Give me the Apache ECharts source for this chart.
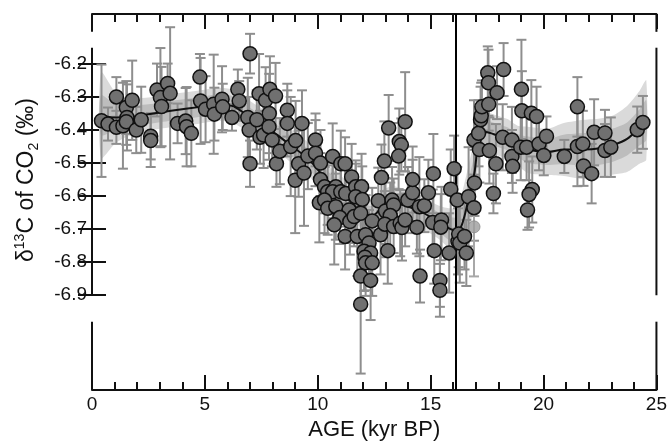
<!DOCTYPE html>
<html>
<head>
<meta charset="utf-8">
<script src="https://cdn.jsdelivr.net/npm/echarts@6/dist/echarts.min.js"></script>
<style>
  html, body { margin: 0; padding: 0; background: #fff; }
  #chart { width: 670px; height: 446px; }
</style>
</head>
<body>
<div id="chart"></div>
<script>
// measured samples: age (kyr BP), d13C-CO2 (permil), 1-sigma error
const ageKyr = [
  0.42, 0.71, 1.08, 1.08, 1.37, 1.52, 1.55, 1.52, 1.78, 1.96, 2.18, 2.60, 2.60, 2.88, 3.03, 3.08,
  3.35, 3.46, 3.79, 4.15, 4.19, 4.40, 4.78, 4.81, 5.03, 5.39, 5.42, 5.76, 5.79, 6.20, 6.46, 6.52,
  6.90, 7.00, 6.96, 7.00, 7.30, 7.40, 7.44, 7.60, 7.69, 7.88, 7.85, 7.84, 7.98, 8.13, 8.17, 8.32,
  8.65, 8.65, 8.80, 9.02, 9.30, 9.15, 9.00, 9.39, 9.56, 9.90, 9.90, 10.12, 10.12, 10.07, 10.66, 11.02,
  11.21, 10.30, 10.44, 10.80, 10.66, 11.02, 11.24, 11.50, 11.68, 11.94, 11.68, 11.97, 10.30, 10.44, 10.80, 11.39,
  10.98, 10.73, 11.42, 11.61, 11.90, 11.21, 11.75, 12.12, 12.27, 12.05, 12.34, 12.09, 12.12, 12.41, 11.90, 12.34,
  11.90, 12.41, 12.82, 12.68, 12.78, 13.14, 13.87, 13.61, 13.70, 13.58, 12.95, 13.00, 13.29, 13.36, 13.21, 12.97,
  13.36, 13.65, 13.73, 13.87, 13.99, 14.20, 14.20, 14.39, 14.50, 14.72, 14.90, 15.12, 15.09, 15.48, 15.45, 15.16,
  13.10, 14.53, 15.41, 15.41, 15.82, 15.89, 16.04, 16.18, 16.21, 16.24, 16.29, 16.50, 16.58, 16.68, 16.92, 16.94,
  16.92, 17.12, 17.16, 17.21, 17.24, 17.27, 17.57, 17.60, 17.53, 17.56, 17.94, 18.23, 17.89, 17.78, 18.19, 18.60,
  18.60, 18.63, 19.02, 19.04, 18.99, 19.25, 19.46, 19.69, 19.50, 19.36, 19.29, 19.80, 20.13, 20.01, 20.92, 21.50,
  21.50, 21.74, 21.77, 22.13, 22.24, 22.72, 22.72, 22.98, 24.15, 24.40
];
const d13c = [
  -6.372, -6.382, -6.300, -6.392, -6.387, -6.332, -6.362, -6.375, -6.310, -6.400, -6.369, -6.419, -6.432, -6.279, -6.302, -6.329,
  -6.259, -6.289, -6.380, -6.373, -6.390, -6.410, -6.240, -6.312, -6.337, -6.322, -6.352, -6.307, -6.330, -6.362, -6.277, -6.312,
  -6.362, -6.169, -6.400, -6.502, -6.369, -6.290, -6.422, -6.415, -6.310, -6.277, -6.350, -6.390, -6.430, -6.297, -6.502, -6.464,
  -6.340, -6.380, -6.450, -6.432, -6.380, -6.502, -6.552, -6.530, -6.479, -6.430, -6.470, -6.500, -6.550, -6.620, -6.480, -6.502,
  -6.502, -6.572, -6.587, -6.572, -6.587, -6.587, -6.592, -6.542, -6.572, -6.572, -6.602, -6.610, -6.612, -6.637, -6.632, -6.642,
  -6.665, -6.687, -6.677, -6.662, -6.652, -6.722, -6.722, -6.717, -6.742, -6.767, -6.772, -6.785, -6.802, -6.802, -6.842, -6.855,
  -6.927, -6.675, -6.544, -6.614, -6.717, -6.394, -6.375, -6.435, -6.445, -6.479, -6.494, -6.645, -6.612, -6.627, -6.659, -6.685,
  -6.692, -6.682, -6.695, -6.672, -6.612, -6.590, -6.550, -6.694, -6.632, -6.629, -6.590, -6.532, -6.680, -6.672, -6.694, -6.765,
  -6.765, -6.842, -6.855, -6.885, -6.772, -6.579, -6.517, -6.612, -6.737, -6.715, -6.742, -6.722, -6.772, -6.602, -6.635, -6.560,
  -6.430, -6.410, -6.459, -6.369, -6.357, -6.330, -6.322, -6.462, -6.227, -6.257, -6.287, -6.217, -6.502, -6.592, -6.422, -6.430,
  -6.480, -6.510, -6.277, -6.342, -6.452, -6.452, -6.349, -6.359, -6.580, -6.595, -6.642, -6.442, -6.419, -6.477, -6.480, -6.330,
  -6.450, -6.442, -6.509, -6.532, -6.407, -6.409, -6.462, -6.452, -6.399, -6.377
];
const errBar = [
  0.17, 0.05, 0.06, 0.05, 0.13, 0.08, 0.10, 0.07, 0.12, 0.07, 0.10, 0.07, 0.08, 0.08, 0.15, 0.12,
  0.06, 0.20, 0.06, 0.10, 0.12, 0.10, 0.07, 0.13, 0.10, 0.15, 0.08, 0.10, 0.07, 0.04, 0.06, 0.06,
  0.12, 0.06, 0.10, 0.07, 0.09, 0.12, 0.08, 0.10, 0.10, 0.10, 0.12, 0.10, 0.08, 0.10, 0.07, 0.10,
  0.08, 0.10, 0.15, 0.12, 0.10, 0.10, 0.16, 0.16, 0.10, 0.08, 0.10, 0.10, 0.08, 0.12, 0.10, 0.10,
  0.08, 0.08, 0.10, 0.10, 0.08, 0.09, 0.10, 0.10, 0.08, 0.10, 0.10, 0.10, 0.10, 0.08, 0.10, 0.10,
  0.08, 0.12, 0.10, 0.09, 0.10, 0.10, 0.12, 0.12, 0.10, 0.12, 0.10, 0.10, 0.10, 0.10, 0.10, 0.12,
  0.21, 0.10, 0.10, 0.10, 0.12, 0.10, 0.15, 0.10, 0.08, 0.10, 0.12, 0.10, 0.10, 0.08, 0.10, 0.10,
  0.08, 0.10, 0.10, 0.08, 0.10, 0.10, 0.10, 0.08, 0.15, 0.08, 0.10, 0.12, 0.10, 0.10, 0.10, 0.10,
  0.10, 0.08, 0.08, 0.08, 0.12, 0.12, 0.10, 0.10, 0.10, 0.10, 0.12, 0.10, 0.10, 0.15, 0.10, 0.10,
  0.12, 0.10, 0.10, 0.10, 0.10, 0.08, 0.08, 0.10, 0.08, 0.10, 0.08, 0.08, 0.12, 0.06, 0.10, 0.10,
  0.08, 0.08, 0.15, 0.12, 0.10, 0.10, 0.10, 0.09, 0.10, 0.10, 0.06, 0.08, 0.06, 0.06, 0.05, 0.09,
  0.12, 0.10, 0.06, 0.09, 0.10, 0.07, 0.08, 0.09, 0.07, 0.08
];

// sample drawn in light grey (not used in the fit)
const greyAge = [16.92];
const greyD13c = [-6.693];
const greyErr = [0.15];

// spline fit and its 1-sigma / 2-sigma envelopes
const fitAge = [
  0.4, 1.0, 1.5, 2.5, 3.5, 4.8, 5.6, 6.2, 6.6, 7.1, 7.7, 8.25, 8.8, 9.4, 9.85, 10.2,
  10.7, 11.25, 11.8, 12.4, 12.9, 13.3, 13.9, 14.6, 15.3, 15.8, 16.1, 16.3, 16.5, 16.7, 16.95, 17.06,
  17.16, 17.4, 17.8, 18.4, 18.85, 19.3, 20.2, 20.9, 21.8, 22.5, 23.1, 23.7, 24.25, 24.55
];
const fitD13c = [
  -6.355, -6.362, -6.362, -6.352, -6.342, -6.330, -6.322, -6.327, -6.342, -6.367, -6.392, -6.417, -6.447, -6.477, -6.507, -6.537,
  -6.572, -6.602, -6.640, -6.660, -6.630, -6.620, -6.630, -6.648, -6.677, -6.697, -6.705, -6.700, -6.660, -6.600, -6.525, -6.457,
  -6.417, -6.405, -6.413, -6.427, -6.447, -6.460, -6.466, -6.459, -6.459, -6.455, -6.445, -6.427, -6.392, -6.370
];
const fitOuter = [
  0.13, 0.08, 0.06, 0.05, 0.05, 0.05, 0.05, 0.05, 0.05, 0.05, 0.05, 0.05, 0.05, 0.05, 0.05, 0.05,
  0.05, 0.05, 0.05, 0.05, 0.05, 0.05, 0.05, 0.05, 0.05, 0.06, 0.07, 0.09, 0.10, 0.10, 0.10, 0.09,
  0.07, 0.06, 0.06, 0.06, 0.06, 0.07, 0.07, 0.08, 0.09, 0.09, 0.09, 0.10, 0.11, 0.12
];
const fitInner = [
  0.06, 0.04, 0.035, 0.03, 0.03, 0.03, 0.03, 0.03, 0.03, 0.03, 0.03, 0.03, 0.03, 0.03, 0.03, 0.03,
  0.03, 0.03, 0.03, 0.03, 0.03, 0.03, 0.03, 0.03, 0.03, 0.035, 0.04, 0.05, 0.055, 0.055, 0.055, 0.05,
  0.04, 0.035, 0.035, 0.035, 0.035, 0.04, 0.04, 0.045, 0.05, 0.05, 0.05, 0.05, 0.055, 0.06
];

const boundaryAge = 16.1;
const yTicks = [-6.2, -6.3, -6.4, -6.5, -6.6, -6.7, -6.8, -6.9];
const yMin = -7.187, yMax = -6.049;

const FONT = 'Liberation Sans, Arial, Helvetica, sans-serif';
const INK = '#111';

const chart = echarts.init(document.getElementById('chart'));

function bandRenderer(halfWidths, fill) {
  return function (params, api) {
    const upper = fitAge.map((a, i) => api.coord([a, fitD13c[i] + halfWidths[i]]));
    const lower = fitAge.map((a, i) => api.coord([a, fitD13c[i] - halfWidths[i]])).reverse();
    return {
      type: 'polygon',
      shape: { points: upper.concat(lower), smooth: 0.25 },
      style: { fill: fill }
    };
  };
}

function errorRenderer(color) {
  return function (params, api) {
    const x = api.value(0);
    const top = api.coord([x, api.value(2)]);
    const bot = api.coord([x, api.value(1)]);
    const cap = 5;
    const style = { stroke: color, lineWidth: 2 };
    return {
      type: 'group',
      children: [
        { type: 'line', shape: { x1: top[0], y1: top[1], x2: bot[0], y2: bot[1] }, style },
        { type: 'line', shape: { x1: top[0] - cap, y1: top[1], x2: top[0] + cap, y2: top[1] }, style },
        { type: 'line', shape: { x1: bot[0] - cap, y1: bot[1], x2: bot[0] + cap, y2: bot[1] }, style }
      ]
    };
  };
}

const xAxisBase = {
  type: 'value',
  min: 0,
  max: 25,
  interval: 5,
  axisLine: { show: true, onZero: false, lineStyle: { color: INK, width: 2 } },
  axisTick: { show: true, inside: true, length: 15, lineStyle: { color: INK, width: 2 } },
  minorTick: { show: true, splitNumber: 5, length: 8, lineStyle: { color: INK, width: 2 } },
  splitLine: { show: false },
  minorSplitLine: { show: false }
};

const yAxisBase = {
  type: 'value',
  min: yMin,
  max: yMax,
  axisLine: { show: false },
  axisTick: { show: true, inside: true, length: 14, customValues: yTicks, lineStyle: { color: INK, width: 2 } },
  splitLine: { show: false }
};

const option = {
  animation: false,
  backgroundColor: '#fff',
  grid: { left: 92, right: 8, top: 14, bottom: 53 },
  xAxis: [
    Object.assign({}, xAxisBase, {
      position: 'bottom',
      name: 'AGE (kyr BP)',
      nameLocation: 'middle',
      nameGap: 28,
      nameTextStyle: { fontFamily: FONT, fontSize: 22, color: INK },
      axisLabel: { fontFamily: FONT, fontSize: 19, color: INK, margin: 5 }
    }),
    Object.assign({}, xAxisBase, { position: 'top', axisLabel: { show: false } })
  ],
  yAxis: [
    Object.assign({}, yAxisBase, {
      position: 'left',
      axisLabel: {
        fontFamily: FONT, fontSize: 19, color: INK, margin: 5,
        customValues: yTicks,
        formatter: (v) => v.toFixed(1)
      }
    }),
    Object.assign({}, yAxisBase, { position: 'right', axisLabel: { show: false } })
  ],
  series: [
    {
      type: 'custom',
      name: 'outer band',
      data: [[fitAge[0], fitD13c[0]]],
      renderItem: bandRenderer(fitOuter, '#dadada'),
      clip: true,
      silent: true,
      z: 1
    },
    {
      type: 'custom',
      name: 'inner band',
      data: [[fitAge[0], fitD13c[0]]],
      renderItem: bandRenderer(fitInner, '#bdbdbd'),
      clip: true,
      silent: true,
      z: 2
    },
    {
      type: 'custom',
      name: 'error bars',
      data: ageKyr.map((a, i) => [a, d13c[i] - errBar[i], d13c[i] + errBar[i]]),
      encode: { x: 0, y: [1, 2] },
      renderItem: errorRenderer('#8e8e8e'),
      clip: true,
      silent: true,
      z: 3
    },
    {
      type: 'custom',
      name: 'grey error',
      data: greyAge.map((a, i) => [a, greyD13c[i] - greyErr[i], greyD13c[i] + greyErr[i]]),
      encode: { x: 0, y: [1, 2] },
      renderItem: errorRenderer('#a8a8a8'),
      silent: true,
      z: 3
    },
    {
      type: 'line',
      name: 'fit',
      data: fitAge.map((a, i) => [a, fitD13c[i]]),
      smooth: 0.3,
      showSymbol: false,
      lineStyle: { color: INK, width: 2 },
      silent: true,
      z: 4
    },
    {
      type: 'scatter',
      name: 'grey sample',
      data: greyAge.map((a, i) => [a, greyD13c[i]]),
      symbolSize: 12,
      itemStyle: { color: '#9c9c9c', borderColor: '#8a8a8a', borderWidth: 1 },
      silent: true,
      z: 5
    },
    {
      type: 'scatter',
      name: 'd13C',
      data: ageKyr.map((a, i) => [a, d13c[i]]),
      symbolSize: 14,
      itemStyle: { color: '#707070', borderColor: '#111', borderWidth: 1.5, opacity: 1 },
      silent: true,
      z: 6
    },
    {
      type: 'line',
      name: 'boundary',
      data: [],
      z: 10,
      markLine: {
        silent: true,
        symbol: ['none', 'none'],
        label: { show: false },
        lineStyle: { color: '#000', width: 2, type: 'solid' },
        data: [{ xAxis: boundaryAge }]
      }
    }
  ]
};

chart.setOption(option);

// broken frame on left and right sides, as in the original figure
const frameRuns = [[yMax, -6.103], [-6.151, -6.9], [-6.98, yMin]];
const frameLines = [];
[0, 25].forEach((x) => {
  frameRuns.forEach(([y1, y2]) => {
    const a = chart.convertToPixel({ seriesIndex: 6 }, [x, y1]);
    const b = chart.convertToPixel({ seriesIndex: 6 }, [x, y2]);
    frameLines.push({
      type: 'line',
      shape: { x1: a[0], y1: a[1], x2: b[0], y2: b[1] },
      style: { stroke: INK, lineWidth: 2 },
      z: 20
    });
  });
});

chart.setOption({
  graphic: frameLines.concat([
    {
      type: 'text',
      x: 27,
      y: 180,
      rotation: Math.PI / 2,
      z: 20,
      style: {
        text: '{a|δ}{s|13}{a|C of CO}{b|2}{a| (‰)}',
        align: 'center',
        verticalAlign: 'middle',
        fill: INK,
        rich: {
          a: { fontFamily: FONT, fontSize: 23, lineHeight: 28, fill: INK },
          s: { fontFamily: FONT, fontSize: 14, lineHeight: 14, verticalAlign: 'top', fill: INK },
          b: { fontFamily: FONT, fontSize: 14, lineHeight: 14, verticalAlign: 'bottom', fill: INK }
        }
      }
    }
  ])
});
</script>
</body>
</html>
